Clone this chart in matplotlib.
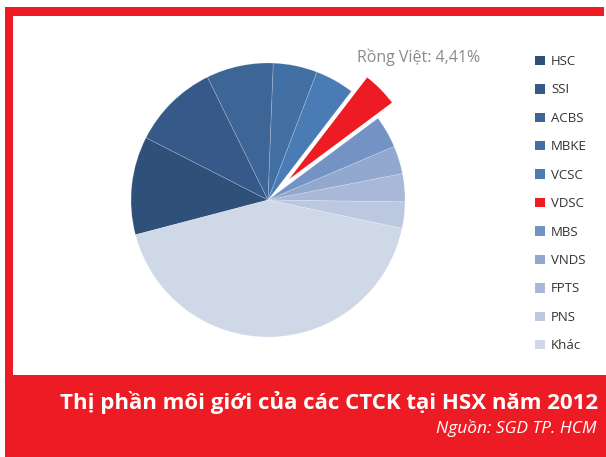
import matplotlib.pyplot as plt
from matplotlib.patches import Rectangle

W, H = 606, 457

brokers = ["HSC", "SSI", "ACBS", "MBKE", "VCSC", "VDSC", "MBS", "VNDS", "FPTS", "PNS", "Khác"]
shares = [11.6, 10.2, 7.9, 5.2, 4.6, 4.41, 3.8, 3.3, 3.3, 3.1, 42.6]
colors = ["#2f5078", "#36598a", "#3d6596", "#4370a4", "#4a7bb4", "#ed1c24",
          "#7293c4", "#93a8cf", "#a9b8d8", "#bcc8e0", "#cfd8e7"]
highlight = "VDSC"
highlight_label = "Rồng Việt: 4,41%"

RED = "#ed1c24"

fig = plt.figure(figsize=(W / 100, H / 100), dpi=100)
fig.patch.set_facecolor("white")


def px_rect(x0, y0, x1, y1, color):
    # rectangle given in image pixels (origin top-left)
    fig.patches.append(Rectangle((x0 / W, 1 - y1 / H), (x1 - x0) / W, (y1 - y0) / H,
                                 transform=fig.transFigure, color=color, lw=0, zorder=0))


# red frame: top bar, left bar, bottom band
px_rect(5, 7, 604, 16, RED)
px_rect(5, 7, 13, 457, RED)
px_rect(5, 375, 606, 457, RED)

# pie axes placed in pixels
cx, cy, r = 268, 200, 137
lim = 1.3
side = 2 * lim * r
ax = fig.add_axes([(cx - side / 2) / W, 1 - (cy + side / 2) / H, side / W, side / H])
explode = [0.16 if b == highlight else 0 for b in brokers]
wedges, _ = ax.pie(shares, colors=colors, explode=explode, startangle=194.7,
                   counterclock=False, radius=1,
                   wedgeprops=dict(edgecolor=(1, 1, 1, 0.25), linewidth=0.5))
for w, b in zip(wedges, brokers):
    if b == highlight:
        w.set_edgecolor("white")
        w.set_linewidth(1.6)
ax.set_xlim(-lim, lim)
ax.set_ylim(-lim, lim)
ax.set_aspect("equal")
ax.axis("off")

fig.text(419 / W, 1 - 57 / H, highlight_label, ha="center", va="center",
         fontsize=11.5, color="#8a8a8a", family="Open Sans")

leg = fig.legend(wedges, brokers, loc="upper left", bbox_to_anchor=(535 / W, 1 - 55 / H),
                 bbox_transform=fig.transFigure, frameon=False, fontsize=9.5,
                 handlelength=0.72, handleheight=0.72, handletextpad=0.5,
                 labelspacing=1.17, borderpad=0, borderaxespad=0)
for t in leg.get_texts():
    t.set_color("#333333")
    t.set_family("Open Sans")
for h in leg.legend_handles:
    h.set_edgecolor("none")

fig.text(598 / W, 1 - 402 / H, "Thị phần môi giới của các CTCK tại HSX năm 2012",
         ha="right", va="center", fontsize=16, fontweight="bold", color="white",
         family="Open Sans")
fig.text(597 / W, 1 - 428 / H, "Nguồn: SGD TP. HCM", ha="right", va="center",
         fontsize=12.5, style="italic", color="white", family="Open Sans")

fig.savefig("out.png", dpi=100, facecolor=fig.get_facecolor())
